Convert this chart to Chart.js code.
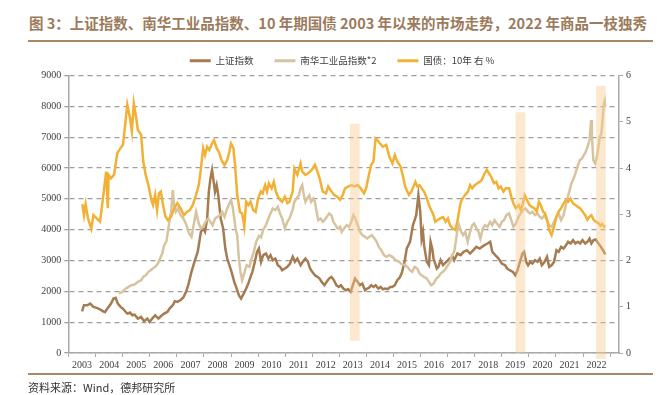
<!DOCTYPE html>
<html>
<head>
<meta charset="utf-8">
<script src="https://cdn.jsdelivr.net/npm/chart.js@4.4.0/dist/chart.umd.min.js"></script>
<style>
body { margin: 0; background: #fff; }
#wrap { position: relative; width: 660px; height: 395px; overflow: hidden; }
#title { position: absolute; left: 29px; top: 12px; font: bold 14.5px "Noto Sans CJK SC", sans-serif; color: #9b7b5b; white-space: nowrap; }
.rule { position: absolute; left: 28px; width: 625px; height: 1.5px; background: #a98869; }
#source { position: absolute; left: 28px; top: 379px; font: 11px "Noto Sans CJK SC", sans-serif; color: #333; white-space: nowrap; }
canvas { position: absolute; left: 0; top: 0; }
</style>
</head>
<body>
<div id="wrap">
  <div id="title">图 3：上证指数、南华工业品指数、10 年期国债 2003 年以来的市场走势，2022 年商品一枝独秀</div>
  <div class="rule" style="top:40px"></div>
  <canvas id="chart" width="660" height="395"></canvas>
  <div class="rule" style="top:373px"></div>
  <div id="source">资料来源：Wind，德邦研究所</div>
</div>
<script>
// 上证指数
const shDates = [2003.00,2003.07,2003.19,2003.30,2003.42,2003.54,2003.66,2003.77,2003.85,2003.95,2004.07,2004.16,2004.24,2004.32,2004.42,2004.51,2004.59,2004.67,2004.77,2004.86,2004.94,2005.06,2005.18,2005.29,2005.41,2005.49,2005.59,2005.70,2005.82,2005.91,2006.03,2006.15,2006.23,2006.35,2006.43,2006.52,2006.64,2006.74,2006.84,2006.92,2007.04,2007.15,2007.27,2007.39,2007.47,2007.54,2007.62,2007.68,2007.74,2007.80,2007.86,2007.91,2007.97,2008.03,2008.12,2008.21,2008.29,2008.36,2008.44,2008.52,2008.62,2008.71,2008.79,2008.87,2008.97,2009.06,2009.14,2009.22,2009.29,2009.38,2009.46,2009.53,2009.61,2009.69,2009.79,2009.88,2009.96,2010.04,2010.14,2010.23,2010.31,2010.39,2010.49,2010.58,2010.68,2010.78,2010.86,2010.95,2011.07,2011.15,2011.25,2011.34,2011.42,2011.50,2011.60,2011.69,2011.77,2011.85,2011.95,2012.03,2012.12,2012.21,2012.30,2012.39,2012.48,2012.56,2012.65,2012.74,2012.83,2012.92,2013.00,2013.08,2013.18,2013.26,2013.35,2013.45,2013.53,2013.59,2013.68,2013.76,2013.84,2013.94,2014.03,2014.11,2014.19,2014.29,2014.38,2014.46,2014.55,2014.64,2014.73,2014.81,2014.91,2014.99,2015.11,2015.22,2015.34,2015.42,2015.49,2015.54,2015.59,2015.63,2015.73,2015.81,2015.87,2015.93,2015.98,2016.10,2016.16,2016.24,2016.33,2016.45,2016.57,2016.69,2016.74,2016.86,2016.98,2017.09,2017.21,2017.33,2017.45,2017.56,2017.68,2017.86,2017.97,2018.07,2018.15,2018.26,2018.38,2018.50,2018.62,2018.70,2018.79,2018.91,2019.00,2019.08,2019.17,2019.26,2019.32,2019.40,2019.47,2019.55,2019.63,2019.73,2019.82,2019.90,2019.98,2020.08,2020.17,2020.25,2020.34,2020.43,2020.52,2020.60,2020.69,2020.78,2020.87,2020.95,2021.04,2021.13,2021.22,2021.31,2021.39,2021.48,2021.58,2021.66,2021.74,2021.81,2021.89,2021.97,2022.07,2022.16,2022.24,2022.32];
const shValues = [1350,1549,1549,1603,1495,1462,1419,1354,1332,1462,1603,1765,1787,1603,1495,1440,1354,1278,1311,1224,1246,1116,1170,1030,1116,1008,1116,1224,1116,1192,1278,1332,1440,1549,1680,1657,1720,1800,1982,2198,2631,2956,3280,3930,4038,3930,4362,5228,5661,5932,5553,5228,5445,5120,4362,4038,3388,3063,2847,2631,2306,2089,1873,1765,1927,2089,2252,2469,2631,2956,3280,3388,2956,3172,3226,3063,3172,3010,3063,2847,2793,2685,2739,2793,2900,3118,2956,3063,2847,2956,3064,2956,2739,2631,2522,2469,2414,2306,2198,2306,2414,2469,2360,2198,2144,2198,2089,2036,2068,1982,2198,2414,2306,2198,2252,2036,2089,2111,2198,2144,2198,2089,2144,2068,2089,2068,2144,2144,2198,2360,2450,2600,2956,3389,3605,4146,4470,5120,4578,3714,3930,3497,2956,2847,3605,3389,3064,2739,2793,3010,2847,2956,3064,3118,3010,3226,3172,3280,3334,3226,3334,3442,3389,3497,3551,3605,3280,3172,3064,2902,2847,2739,2685,2630,2522,2685,2956,3226,3280,2956,2847,2956,2901,3010,2956,3064,2847,2956,3118,2793,2847,2956,3334,3280,3442,3388,3496,3605,3550,3659,3550,3605,3550,3659,3550,3605,3713,3550,3659,3681,3550,3442,3334,3200];

// 南华工业品指数*2
const nhDates = [2004.36,2004.48,2004.59,2004.71,2004.83,2004.94,2005.06,2005.18,2005.26,2005.35,2005.45,2005.53,2005.61,2005.70,2005.80,2005.88,2005.96,2006.03,2006.11,2006.17,2006.24,2006.29,2006.35,2006.40,2006.46,2006.54,2006.64,2006.74,2006.86,2006.95,2007.04,2007.12,2007.21,2007.31,2007.39,2007.47,2007.56,2007.66,2007.74,2007.82,2007.91,2008.01,2008.09,2008.17,2008.26,2008.36,2008.44,2008.50,2008.56,2008.62,2008.67,2008.73,2008.79,2008.85,2008.91,2008.97,2009.02,2009.08,2009.18,2009.26,2009.34,2009.43,2009.53,2009.61,2009.69,2009.79,2009.88,2009.96,2010.04,2010.14,2010.23,2010.31,2010.39,2010.49,2010.58,2010.66,2010.78,2010.84,2010.92,2011.01,2011.07,2011.13,2011.19,2011.25,2011.31,2011.39,2011.46,2011.54,2011.60,2011.66,2011.72,2011.81,2011.89,2011.95,2012.04,2012.12,2012.21,2012.28,2012.36,2012.44,2012.53,2012.59,2012.67,2012.77,2012.86,2012.94,2013.02,2013.09,2013.18,2013.26,2013.35,2013.45,2013.53,2013.61,2013.70,2013.80,2013.88,2013.96,2014.05,2014.15,2014.23,2014.35,2014.46,2014.58,2014.70,2014.81,2014.93,2015.02,2015.11,2015.19,2015.28,2015.38,2015.46,2015.54,2015.63,2015.73,2015.81,2015.89,2015.98,2016.08,2016.16,2016.24,2016.33,2016.43,2016.51,2016.59,2016.66,2016.74,2016.80,2016.86,2016.92,2017.00,2017.07,2017.15,2017.24,2017.33,2017.41,2017.48,2017.56,2017.64,2017.71,2017.80,2017.88,2017.97,2018.07,2018.15,2018.23,2018.32,2018.42,2018.50,2018.58,2018.67,2018.77,2018.85,2018.93,2019.02,2019.12,2019.20,2019.28,2019.38,2019.47,2019.55,2019.63,2019.73,2019.82,2019.90,2019.98,2020.08,2020.17,2020.25,2020.34,2020.43,2020.52,2020.60,2020.69,2020.78,2020.85,2020.92,2020.99,2021.07,2021.15,2021.22,2021.31,2021.39,2021.46,2021.53,2021.60,2021.67,2021.74,2021.80,2021.83,2021.88,2021.95,2022.01,2022.07,2022.12,2022.18,2022.22,2022.27,2022.30,2022.32];
const nhValues = [1928,1982,2068,2144,2198,2220,2306,2360,2469,2522,2631,2685,2739,2793,2901,3064,3226,3497,3605,3930,4362,4578,5282,4795,4578,4687,4470,4362,4146,3876,3768,4146,4578,4200,4038,4092,4254,4362,4254,4146,4362,4416,4470,4578,4416,4687,4849,4957,4741,4362,4038,3822,3064,2631,2360,2522,2685,2847,2793,3064,3280,3605,3800,3750,4000,4146,4362,4524,4687,4632,4741,4524,4362,4038,4254,4362,4660,4903,5011,5120,5336,5444,5120,4903,5011,5120,4903,5011,4903,4578,4308,4362,4254,4308,4416,4524,4470,4254,4146,4038,4092,3930,4038,4146,4092,4254,4470,4362,4146,3930,3822,3768,3714,3768,3822,3714,3605,3442,3334,3172,3118,3172,3118,3010,2956,2880,2847,2793,2685,2631,2793,2739,2576,2522,2469,2414,2306,2198,2252,2414,2469,2576,2631,2739,2847,2956,3172,3280,3605,3984,4146,3930,3822,3930,3605,3930,4146,4200,4038,3930,3714,4038,4146,4092,4254,4146,4308,4200,4092,4254,4308,4470,4524,4308,4091,4200,4416,4524,4632,4686,4578,4524,4578,4470,4524,4416,4362,4470,4308,4145,4091,4254,4416,4524,4308,4470,4740,5011,5227,5498,5660,5823,6093,6257,6310,6418,6527,6690,6906,7555,7014,6257,6148,6364,6690,7014,7122,7555,8096,8182,7987];

// 国债：10年（右轴，%）
const bondDates = [2003.01,2003.07,2003.13,2003.22,2003.34,2003.42,2003.54,2003.66,2003.71,2003.77,2003.83,2003.89,2003.95,2003.98,2004.07,2004.18,2004.30,2004.42,2004.51,2004.59,2004.67,2004.77,2004.84,2004.91,2005.00,2005.06,2005.18,2005.26,2005.35,2005.45,2005.56,2005.62,2005.70,2005.77,2005.84,2005.91,2005.99,2006.08,2006.17,2006.29,2006.40,2006.52,2006.64,2006.76,2006.87,2006.98,2007.09,2007.21,2007.31,2007.39,2007.47,2007.54,2007.62,2007.70,2007.80,2007.87,2007.97,2008.05,2008.15,2008.26,2008.36,2008.44,2008.50,2008.59,2008.65,2008.73,2008.83,2008.91,2008.99,2009.06,2009.14,2009.22,2009.32,2009.41,2009.50,2009.60,2009.67,2009.76,2009.83,2009.90,2010.00,2010.08,2010.16,2010.23,2010.31,2010.39,2010.49,2010.58,2010.66,2010.78,2010.84,2010.95,2011.07,2011.13,2011.25,2011.36,2011.48,2011.60,2011.69,2011.77,2011.89,2012.01,2012.09,2012.18,2012.30,2012.42,2012.53,2012.63,2012.71,2012.83,2012.94,2013.06,2013.18,2013.29,2013.41,2013.49,2013.59,2013.68,2013.76,2013.84,2013.91,2013.99,2014.11,2014.23,2014.35,2014.46,2014.55,2014.64,2014.76,2014.87,2014.93,2015.07,2015.16,2015.26,2015.31,2015.38,2015.46,2015.54,2015.63,2015.73,2015.81,2015.89,2015.98,2016.04,2016.12,2016.22,2016.33,2016.43,2016.51,2016.59,2016.69,2016.78,2016.86,2016.92,2016.99,2017.06,2017.15,2017.25,2017.33,2017.41,2017.50,2017.60,2017.68,2017.76,2017.86,2017.95,2018.03,2018.11,2018.21,2018.30,2018.38,2018.46,2018.56,2018.65,2018.77,2018.85,2018.93,2019.02,2019.12,2019.20,2019.28,2019.35,2019.43,2019.52,2019.61,2019.70,2019.79,2019.87,2019.94,2020.02,2020.10,2020.17,2020.25,2020.34,2020.43,2020.52,2020.60,2020.69,2020.78,2020.87,2020.95,2021.04,2021.13,2021.22,2021.31,2021.39,2021.48,2021.58,2021.66,2021.74,2021.81,2021.89,2021.97,2022.07,2022.14,2022.21,2022.28,2022.32];
const bondValues = [3.22,2.98,3.22,2.91,2.69,2.98,2.91,2.84,3.05,3.34,3.63,3.92,3.13,3.85,3.78,3.85,4.32,4.43,4.50,4.93,5.37,5.08,4.79,5.40,5.08,4.82,4.72,4.14,3.85,3.63,3.31,3.20,3.42,3.09,3.45,3.49,3.20,2.95,2.87,2.95,3.13,3.24,3.13,2.98,3.05,3.09,3.20,3.42,3.63,3.99,4.43,4.28,4.46,4.39,4.53,4.60,4.43,4.35,4.17,4.06,4.17,4.35,4.53,4.43,4.06,3.42,3.05,3.02,2.73,3.27,3.20,3.27,3.09,3.05,3.34,3.49,3.45,3.63,3.49,3.67,3.56,3.70,3.49,3.38,3.31,3.27,3.38,3.24,3.27,3.50,3.99,3.85,4.10,3.92,3.85,3.89,3.96,4.07,3.92,3.78,3.49,3.45,3.60,3.52,3.42,3.38,3.31,3.42,3.56,3.60,3.63,3.60,3.63,3.56,3.45,3.56,3.85,4.07,4.14,4.64,4.60,4.54,4.46,4.50,4.24,4.10,4.28,4.14,4.03,3.78,3.60,3.42,3.49,3.63,3.70,3.60,3.63,3.56,3.49,3.35,3.20,3.09,2.98,2.84,2.87,2.91,2.94,2.84,2.91,2.76,2.69,2.66,2.84,3.06,3.27,3.35,3.42,3.49,3.63,3.56,3.63,3.67,3.70,3.74,3.88,3.96,3.88,3.81,3.67,3.70,3.56,3.60,3.49,3.56,3.56,3.38,3.23,3.13,3.20,3.09,3.23,3.41,3.31,3.20,3.16,3.13,3.06,3.27,3.20,3.06,3.02,2.88,2.65,2.55,2.73,2.95,3.06,3.13,3.23,3.31,3.27,3.34,3.23,3.20,3.16,3.13,3.06,2.98,2.88,2.95,2.98,2.88,2.84,2.81,2.75,2.79,2.73,2.76];

// highlighted periods (right axis)
const shadeDates = [2013.07, 2019.19, 2022.16];
const shadeLow = [0.27, 0, -0.12];
const shadeHigh = [4.95, 5.2, 5.77];

const yearTicks = {min: 2003, max: 2022.32};

const BROWN = '#a57c52';
const TAN = '#d7c49e';
const GOLD = '#f2b134';
const AXIS = '#a9a9a9';
const GRID = '#9e9e9e';

function toPoints(xs, ys) {
  return xs.map((x, i) => ({x: x, y: ys[i]}));
}

const tickFont = {family: 'Liberation Serif', size: 10};

new Chart(document.getElementById('chart'), {
  type: 'line',
  data: {
    datasets: [
      {label: '上证指数', data: toPoints(shDates, shValues), borderColor: BROWN, backgroundColor: BROWN,
        borderWidth: 2.5, pointRadius: 0, yAxisID: 'y', order: 3},
      {label: '南华工业品指数*2', data: toPoints(nhDates, nhValues), borderColor: TAN, backgroundColor: TAN,
        borderWidth: 2.5, pointRadius: 0, yAxisID: 'y', order: 2},
      {label: '国债：10年 右 %', data: toPoints(bondDates, bondValues), borderColor: GOLD, backgroundColor: GOLD,
        borderWidth: 2.5, pointRadius: 0, yAxisID: 'y1', order: 1},
      {type: 'bar', label: 'shade', data: shadeDates.map((d, i) => ({x: d, y: [shadeLow[i], shadeHigh[i]]})),
        backgroundColor: 'rgba(248,200,140,0.42)', borderWidth: 0, barThickness: 9, yAxisID: 'y1', order: 0, clip: false}
    ]
  },
  options: {
    responsive: false,
    animation: false,
    devicePixelRatio: 1,
    layout: {padding: {left: 24, right: 0, top: 35, bottom: 22}},
    plugins: {
      tooltip: {enabled: false},
      legend: {
        position: 'top',
        labels: {
          boxWidth: 21, boxHeight: 3, padding: 21, color: '#404040',
          font: {family: 'Noto Sans CJK SC', size: 9.5},
          sort: (a, b) => a.datasetIndex - b.datasetIndex,
          generateLabels: function(chart) {
            return Chart.defaults.plugins.legend.labels.generateLabels(chart)
              .filter(l => l.datasetIndex < 3)
              .map(l => Object.assign(l, {lineWidth: 0, fillStyle: l.strokeStyle}));
          }
        }
      }
    },
    scales: {
      x: {
        type: 'linear', min: yearTicks.min, max: yearTicks.max,
        border: {color: AXIS, width: 1.5},
        grid: {drawOnChartArea: false, tickLength: 4, color: AXIS},
        ticks: {stepSize: 1, autoSkip: false, maxRotation: 0, includeBounds: false, padding: 2,
          color: '#404040', font: tickFont, callback: v => String(v)},
        afterFit: s => { s.height = 20; }
      },
      y: {
        position: 'left', min: 0, max: 9000,
        border: {color: AXIS, width: 1.5, dash: [5, 4]},
        grid: {color: GRID, lineWidth: 1.3, tickLength: 4},
        ticks: {stepSize: 1000, padding: 3, color: '#404040', font: tickFont, callback: v => String(v)},
        afterFit: s => { s.width = 44.3; }
      },
      y1: {
        position: 'right', min: 0, max: 6,
        border: {color: AXIS, width: 1.5},
        grid: {drawOnChartArea: false, tickLength: 4, color: AXIS},
        ticks: {stepSize: 1, padding: 3, color: '#404040', font: tickFont},
        afterFit: s => { s.width = 41; }
      }
    }
  }
});
</script>
</body>
</html>
